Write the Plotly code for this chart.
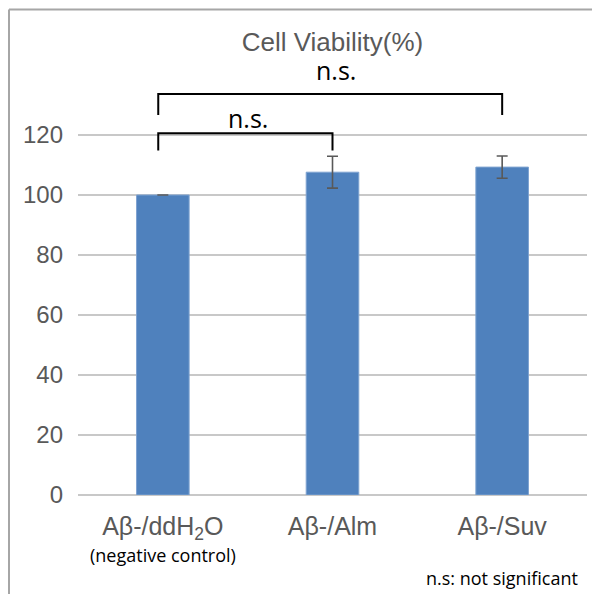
import plotly.graph_objects as go

# ---- data ----
categories = ["Aβ-/ddH<sub>2</sub>O", "Aβ-/Alm", "Aβ-/Suv"]
viability = [100.0, 107.6, 109.3]
errors = [0.0, 5.3, 3.7]
y_ticks = [0, 20, 40, 60, 80, 100, 120]

# significance brackets: (left category index, right category index, top level, foot level, label level)
brackets = [
    (0, 1, 120.6, 114.8, 125.7, "n.s."),
    (0, 2, 133.7, 126.7, 141.7, "n.s."),
]

GRAY = "#595959"
BAR = "#4F81BD"

# page body adds an 8px offset; size figure to fit the window
W, H = 592, 586
ML, MR, MT, MB = 70, 13, 22, 99
PW = W - ML - MR
PH = H - MT - MB

fig = go.Figure()
fig.add_trace(go.Bar(
    x=list(range(len(categories))),
    y=viability,
    width=0.31,
    marker=dict(color=BAR, line=dict(color="#7EA3D1", width=1)),
    error_y=dict(type="data", array=errors, visible=True, color=GRAY, thickness=1.6, width=5.5),
    showlegend=False,
))

shapes = []
annotations = []
for (a, b, top, foot, lab, txt) in brackets:
    xa = a - 0.027
    xb = b
    shapes.append(dict(type="path", xref="x", yref="y",
                       path=f"M {xa},{foot} L {xa},{top} L {xb},{top} L {xb},{foot}",
                       line=dict(color="black", width=2)))
    annotations.append(dict(x=(a + b) / 2 + (0.0 if b - a == 1 else 0.02), y=lab, xref="x", yref="y",
                            text=txt, showarrow=False,
                            font=dict(family="Open Sans", size=25, color="black"),
                            xanchor="center", yanchor="middle"))

# frame (left and top edges visible)
fx = (1 - ML) / PW
fy = 1 + (MT - 1.5) / PH
shapes.append(dict(type="line", xref="paper", yref="paper", x0=fx, x1=1 + MR / PW, y0=fy, y1=fy,
                   line=dict(color="#A6A6A6", width=2)))
shapes.append(dict(type="line", xref="paper", yref="paper", x0=fx, x1=fx, y0=fy, y1=-MB / PH,
                   line=dict(color="#A6A6A6", width=2)))

annotations.append(dict(x=0, y=0, xref="x", yref="y", yshift=-60, text="(negative control)",
                        showarrow=False, font=dict(family="Open Sans", size=18, color="black"),
                        xanchor="center", yanchor="middle"))
annotations.append(dict(x=(580 - 8 - ML) / PW, y=(495 - 578) / PH, xref="paper", yref="paper",
                        text="n.s: not significant",
                        showarrow=False, font=dict(family="Open Sans", size=18, color="black"),
                        xanchor="right", yanchor="middle"))

fig.update_layout(
    width=W, height=H,
    margin=dict(l=ML, r=MR, t=MT, b=MB),
    paper_bgcolor="white", plot_bgcolor="white",
    title=dict(text="Cell Viability(%)", x=0.5, xref="paper", xanchor="center",
               y=1 - (42 - 8) / H, yanchor="middle",
               font=dict(family="Liberation Sans", size=26, color=GRAY)),
    xaxis=dict(range=[-0.5, 2.5], tickvals=list(range(len(categories))), ticktext=categories,
               showgrid=False, zeroline=False, showline=False, ticks="",
               tickfont=dict(family="Liberation Sans", size=25, color=GRAY),
               ticklabelstandoff=14),
    yaxis=dict(range=[0, 155], tickvals=y_ticks, showgrid=True, gridcolor="#C8C8C8", gridwidth=1.5,
               zeroline=True, zerolinecolor="#C8C8C8", zerolinewidth=1.5, showline=False, ticks="",
               tickfont=dict(family="Liberation Sans", size=24, color=GRAY),
               ticklabelstandoff=14),
    shapes=shapes,
    annotations=annotations,
)

fig.write_html("out.html")
